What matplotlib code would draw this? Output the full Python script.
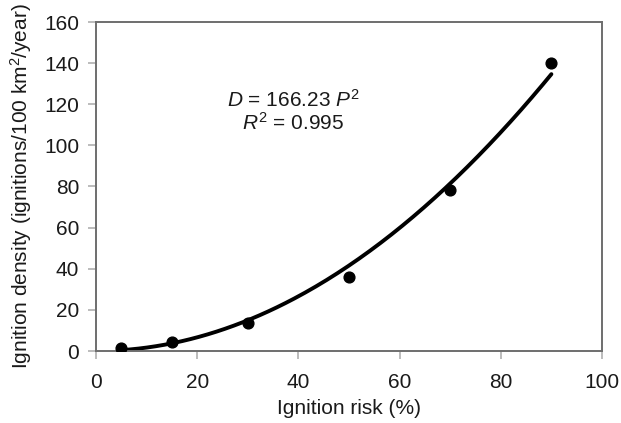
import numpy as np
import matplotlib
matplotlib.use("Agg")
import matplotlib.pyplot as plt

plt.rcParams["font.family"] = ["Liberation Sans", "DejaVu Sans"]
plt.rcParams["mathtext.fontset"] = "custom"
plt.rcParams["mathtext.rm"] = "Liberation Sans"
plt.rcParams["mathtext.it"] = "Liberation Sans:italic"

# Observed points
risk = [5, 15, 30, 50, 70, 90]
density = [1.3, 4.5, 13.5, 36.1, 78.3, 140]

# Fitted curve D = a * P^2 (P as fraction)
coef = 166.23
p_fit = np.linspace(5, 90, 200)
d_fit = coef * (p_fit / 100) ** 2

fs = 15
txt = "#1a1a1a"

fig = plt.figure(figsize=(6.21, 4.23), dpi=100)
ax = fig.add_axes([96 / 621, 1 - 351 / 423, 506 / 621, 329 / 423])

ax.plot(p_fit, d_fit, color="black", lw=2.8, solid_capstyle="round")
ax.scatter(risk, density, s=60, color="black", zorder=3)

ax.set_xlim(0, 100)
ax.set_ylim(0, 160)
ax.set_xticks(np.arange(0, 101, 20))
ax.set_yticks(np.arange(0, 161, 20))

for sp in ax.spines.values():
    sp.set_color("#6e6e6e")
    sp.set_linewidth(1.4)

ax.tick_params(direction="out", length=6, width=1.2, color="#b0b0b0",
               labelsize=fs, labelcolor=txt)
ax.tick_params(axis="x", pad=10)
ax.tick_params(axis="y", pad=6)

ax.set_xlabel("Ignition risk (%)", fontsize=fs, color=txt, labelpad=5)
ax.set_ylabel("Ignition density (ignitions/100 km$^2$/year)", fontsize=fs,
              color=txt, labelpad=7)

ax.text(39, 122, "$D$ = 166.23 $P^2$", ha="center", va="center",
        fontsize=fs, color=txt)
ax.text(39, 111, "$R^2$ = 0.995", ha="center", va="center",
        fontsize=fs, color=txt)

fig.savefig("out.png", dpi=100)
